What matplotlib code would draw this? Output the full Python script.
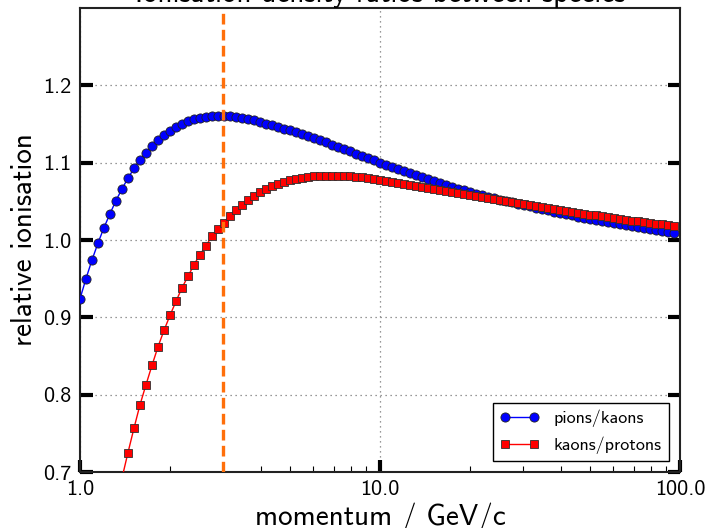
import matplotlib
matplotlib.use("Agg")
import matplotlib.pyplot as plt
from matplotlib.ticker import FormatStrFormatter, LogLocator

plt.rcParams['font.family'] = ['cmss10', 'DejaVu Sans']
plt.rcParams['axes.unicode_minus'] = False

# momentum grid (GeV/c)
momentum = [
    1.000, 1.047, 1.096, 1.148, 1.202, 1.259, 1.318, 1.380, 1.445, 1.514,
    1.585, 1.660, 1.738, 1.820, 1.905, 1.995, 2.089, 2.188, 2.291, 2.399,
    2.512, 2.630, 2.754, 2.884, 3.020, 3.162, 3.311, 3.467, 3.631, 3.802,
    3.981, 4.169, 4.365, 4.571, 4.786, 5.012, 5.248, 5.495, 5.754, 6.026,
    6.310, 6.607, 6.918, 7.244, 7.586, 7.943, 8.318, 8.710, 9.120, 9.550,
    10.00, 10.47, 10.96, 11.48, 12.02, 12.59, 13.18, 13.80, 14.45, 15.14,
    15.85, 16.60, 17.38, 18.20, 19.05, 19.95, 20.89, 21.88, 22.91, 23.99,
    25.12, 26.30, 27.54, 28.84, 30.20, 31.62, 33.11, 34.67, 36.31, 38.02,
    39.81, 41.69, 43.65, 45.71, 47.86, 50.12, 52.48, 54.95, 57.54, 60.26,
    63.10, 66.07, 69.18, 72.44, 75.86, 79.43, 83.18, 87.10, 91.20, 95.50,
]

# ionisation ratio pions/kaons
pions_kaons = [
    0.924, 0.950, 0.974, 0.996, 1.016, 1.034, 1.051, 1.066, 1.080, 1.0925,
    1.1037, 1.1128, 1.1210, 1.1288, 1.1355, 1.1413, 1.1462, 1.1505, 1.1538, 1.1564,
    1.1582, 1.1595, 1.1603, 1.1608, 1.1609, 1.1609, 1.1594, 1.1577, 1.1560, 1.1546,
    1.1528, 1.1505, 1.1486, 1.1466, 1.1441, 1.1420, 1.1397, 1.1372, 1.1348, 1.1320,
    1.1290, 1.1262, 1.1233, 1.1204, 1.1175, 1.1146, 1.1117, 1.1088, 1.1058, 1.1029,
    1.0999, 1.0971, 1.0943, 1.0916, 1.0889, 1.0862, 1.0836, 1.0810, 1.0784, 1.0758,
    1.0733, 1.0709, 1.0686, 1.0663, 1.0641, 1.0619, 1.0598, 1.0578, 1.0559, 1.0540,
    1.0522, 1.0505, 1.0488, 1.0470, 1.0452, 1.0434, 1.0416, 1.0399, 1.0382, 1.0365,
    1.0349, 1.0333, 1.0317, 1.0302, 1.0287, 1.0272, 1.0258, 1.0244, 1.0230, 1.0216,
    1.0203, 1.0190, 1.0177, 1.0164, 1.0152, 1.0140, 1.0128, 1.0117, 1.0106, 1.0095,
]

# ionisation ratio kaons/protons (starts at the 8th momentum point)
kp_start = 7
kaons_protons = [
    0.692, 0.725, 0.757, 0.787, 0.813, 0.838, 0.862, 0.883, 0.9025, 0.9206,
    0.9383, 0.9530, 0.9681, 0.9811, 0.9927, 1.0048, 1.0143, 1.0225, 1.0316, 1.0394,
    1.0459, 1.0523, 1.0575, 1.0620, 1.0660, 1.0694, 1.0728, 1.0755, 1.0777, 1.0793,
    1.0806, 1.0817, 1.0825, 1.0830, 1.0832, 1.0833, 1.0832, 1.0830, 1.0825, 1.0818,
    1.0810, 1.0801, 1.0790, 1.0777, 1.0764, 1.0750, 1.0737, 1.0724, 1.0711, 1.0698,
    1.0685, 1.0672, 1.0659, 1.0646, 1.0633, 1.0620, 1.0607, 1.0595, 1.0581, 1.0568,
    1.0555, 1.0542, 1.0528, 1.0515, 1.0502, 1.0489, 1.0476, 1.0463, 1.0450, 1.0437,
    1.0424, 1.0411, 1.0399, 1.0387, 1.0375, 1.0363, 1.0351, 1.0339, 1.0328, 1.0317,
    1.0306, 1.0295, 1.0284, 1.0273, 1.0262, 1.0251, 1.0241, 1.0231, 1.0221, 1.0211,
    1.0201, 1.0191, 1.0181,
]

cut_momentum = 3.0
yticks = [0.7, 0.8, 0.9, 1.0, 1.1, 1.2]

fig = plt.figure(figsize=(7.18, 5.28), dpi=100)
ax = fig.add_axes([80 / 718, 1 - 472 / 528, 600 / 718, 464 / 528])

ax.plot(momentum, pions_kaons, '-o', color='blue', lw=1, ms=6.6,
        mec='#202020', mew=0.6, label='pions/kaons', zorder=3)
ax.plot(momentum[kp_start:], kaons_protons, '-s', color='red', lw=1, ms=6.4,
        mec='#303030', mew=0.6, label='kaons/protons', zorder=4)
ax.axvline(cut_momentum, color='#ff6f0a', lw=2.4, ls=(0, (3.2, 1.6)), zorder=5)

ax.set_xscale('log')
ax.set_xlim(1, 100)
ax.set_ylim(0.7, 1.3)
ax.set_yticks(yticks)
ax.yaxis.set_major_formatter(FormatStrFormatter('%.1f'))
ax.xaxis.set_major_locator(LogLocator(base=10))
ax.xaxis.set_major_formatter(FormatStrFormatter('%.1f'))

ax.tick_params(axis='both', which='major', direction='in', length=9, width=3,
               color='black', labelsize=16, pad=6)
ax.tick_params(axis='y', which='major', right=True)
ax.tick_params(axis='x', which='major', top=False)
ax.tick_params(axis='x', which='minor', direction='in', length=4, width=0.8,
               top=False)
for s in ax.spines.values():
    s.set_linewidth(1.5)
    s.set_color('#222222')

ax.grid(True, which='major', ls=(0, (1, 3)), color='#777777', lw=0.9)

ax.set_xlabel('momentum / GeV/c', fontsize=21, labelpad=2)
ax.set_ylabel('relative ionisation', fontsize=21, labelpad=4)
ax.set_title('Ionisation density ratios between species', fontsize=21, pad=4)

leg = ax.legend(loc='lower right', numpoints=2, fontsize=13, fancybox=False,
                edgecolor='black', framealpha=1, handlelength=2.2,
                borderaxespad=0.6)
leg.get_frame().set_linewidth(1.0)

fig.savefig('out.png', dpi=100)
